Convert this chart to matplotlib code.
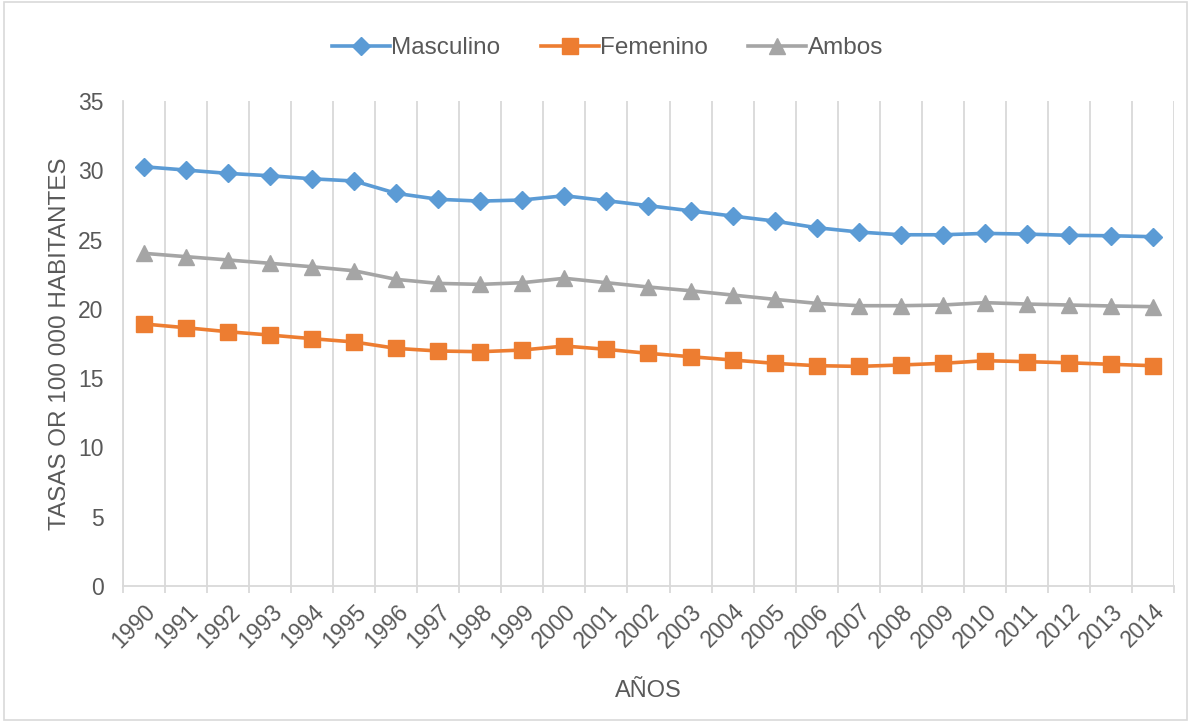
import matplotlib.pyplot as plt
import numpy as np
from matplotlib.patches import Rectangle

plt.rcParams['font.family'] = ['Liberation Sans', 'DejaVu Sans']

# Data
years = [str(y) for y in range(1990, 2015)]
masculino = [30.26, 30.02, 29.78, 29.61, 29.39, 29.23, 28.34, 27.91, 27.78, 27.86,
             28.17, 27.81, 27.45, 27.08, 26.70, 26.34, 25.86, 25.55, 25.35, 25.35,
             25.45, 25.40, 25.31, 25.28, 25.21]
femenino = [18.91, 18.64, 18.35, 18.11, 17.85, 17.61, 17.15, 16.96, 16.91, 17.03,
            17.32, 17.08, 16.79, 16.55, 16.31, 16.07, 15.90, 15.85, 15.95, 16.07,
            16.26, 16.19, 16.11, 16.00, 15.90]
ambos = [24.01, 23.77, 23.53, 23.29, 23.04, 22.75, 22.13, 21.84, 21.77, 21.89,
         22.21, 21.89, 21.58, 21.31, 21.00, 20.69, 20.40, 20.23, 20.23, 20.28,
         20.45, 20.35, 20.28, 20.21, 20.16]
yticks = [0, 5, 10, 15, 20, 25, 30, 35]

text_color = '#595959'
grid_color = '#d9d9d9'

fig = plt.figure(figsize=(11.91, 7.22), dpi=100)
ax = fig.add_axes([0.1033, 0.1884, 0.8824, 0.6716])

x = np.arange(len(years))
ax.plot(x, masculino, color='#5B9BD5', lw=2.6, marker='D', markersize=9.5, label='Masculino')
ax.plot(x, femenino, color='#ED7D31', lw=2.6, marker='s', markersize=11, label='Femenino')
ax.plot(x, ambos, color='#A5A5A5', lw=2.6, marker='^', markersize=11, label='Ambos')

ax.set_xlim(-0.5, len(years) - 0.5)
ax.set_ylim(0, 35)
ax.set_yticks(yticks)
ax.set_xticks(x)
ax.set_xticklabels(years, rotation=45, ha='right', rotation_mode='anchor')
ax.set_xticks(np.arange(-0.5, len(years)), minor=True)
ax.grid(True, axis='x', which='minor', color=grid_color, lw=1.3)
ax.tick_params(axis='x', which='major', length=0, pad=10, labelsize=16.5, labelcolor=text_color)
ax.tick_params(axis='x', which='minor', length=5, color=grid_color, width=1.3)
ax.tick_params(axis='y', length=0, pad=14, labelsize=16.5, labelcolor=text_color)

for s in ['top', 'right']:
    ax.spines[s].set_visible(False)
for s in ['left', 'bottom']:
    ax.spines[s].set_color(grid_color)
    ax.spines[s].set_linewidth(1.3)

ax.set_xlabel('AÑOS', fontsize=17, color=text_color, labelpad=20)
ax.set_ylabel('TASAS OR 100 000 HABITANTES', fontsize=17.5, color=text_color, labelpad=5)

leg = fig.legend(loc='center', bbox_to_anchor=(0.51, 0.933), ncol=3, frameon=False,
                 fontsize=17.5, handlelength=2.4, handletextpad=0.05, columnspacing=1.65)
for t in leg.get_texts():
    t.set_color(text_color)

# chart border
fig.patches.append(Rectangle((0.003, 0.003), 0.994, 0.994, transform=fig.transFigure,
                             fill=False, edgecolor=grid_color, lw=1.2))

fig.savefig('out.png', dpi=100)
